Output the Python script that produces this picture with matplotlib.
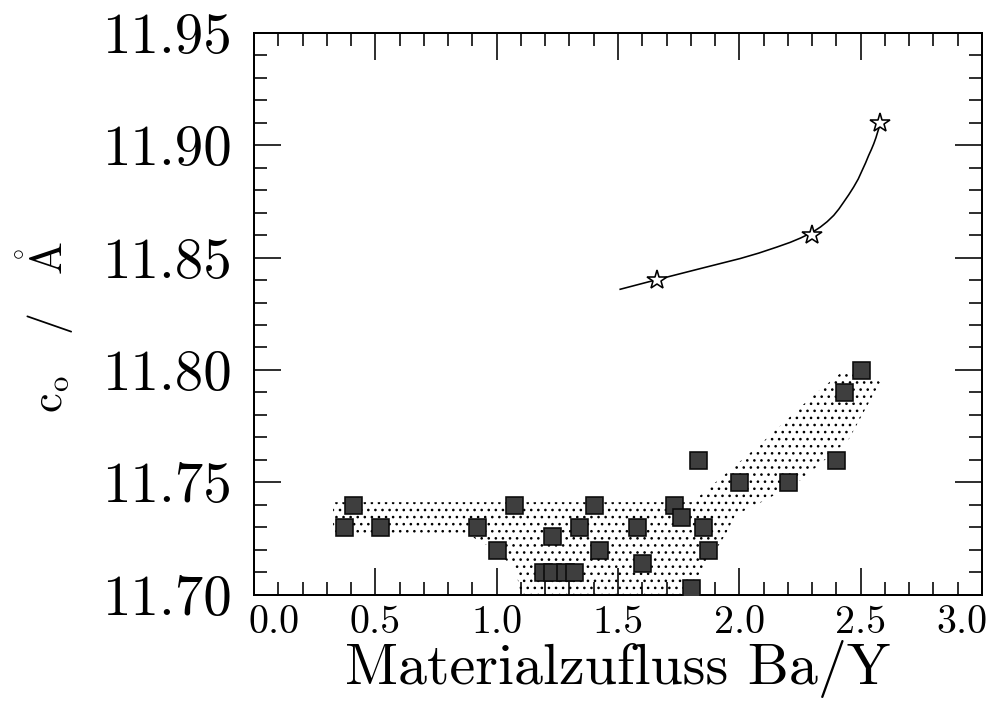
import matplotlib
matplotlib.use("Agg")
import matplotlib.pyplot as plt
import matplotlib.transforms as mtransforms
from matplotlib.patches import Polygon
from matplotlib.ticker import MultipleLocator, FormatStrFormatter

plt.rcParams['font.family'] = ['cmr10', 'DejaVu Serif']
plt.rcParams['mathtext.fontset'] = 'cm'
plt.rcParams['axes.formatter.use_mathtext'] = True
plt.rcParams['axes.unicode_minus'] = False
plt.rcParams['hatch.linewidth'] = 1.0

# ---- data ----
sq_x = [0.37, 0.41, 0.52, 0.92, 1.00, 1.07, 1.19, 1.23, 1.28, 1.32, 1.23, 1.34,
        1.40, 1.42, 1.58, 1.60, 1.73, 1.76, 1.80, 1.83, 1.85, 1.87, 2.00, 2.20,
        2.40, 2.43, 2.50]
sq_y = [11.730, 11.740, 11.730, 11.730, 11.720, 11.740, 11.710, 11.710, 11.710, 11.710,
        11.726, 11.730, 11.740, 11.720, 11.730, 11.714, 11.740, 11.7345, 11.703,
        11.760, 11.730, 11.720, 11.750, 11.750, 11.760, 11.790, 11.800]

star_x = [1.66, 2.30, 2.58]
star_y = [11.840, 11.860, 11.910]

curve_x = [1.509, 1.661, 1.839, 2.004, 2.080, 2.155, 2.210, 2.252, 2.300, 2.334,
           2.362, 2.389, 2.410, 2.430, 2.451, 2.471, 2.490, 2.506, 2.520, 2.533,
           2.544, 2.554, 2.563, 2.570, 2.581]
curve_y = [11.8359, 11.8402, 11.8451, 11.8496, 11.8520, 11.8547, 11.8568, 11.8587,
           11.8612, 11.8636, 11.8660, 11.8688, 11.8716, 11.8747, 11.8780, 11.8814,
           11.8850, 11.8888, 11.8921, 11.8955, 11.8981, 11.9007, 11.9034, 11.9059,
           11.9096]

band_x = [0.326, 1.806, 2.082, 2.305, 2.416, 2.54, 2.58, 2.449, 2.252, 2.107, 1.984,
          1.942, 1.889, 1.839, 1.757, 1.10, 1.076, 0.96, 0.87, 0.326]
band_y = [11.7411, 11.7411, 11.7665, 11.7887, 11.7985, 11.7976, 11.7945, 11.7687,
          11.7509, 11.742, 11.7354, 11.7265, 11.7176, 11.7096, 11.700, 11.700,
          11.712, 11.722, 11.7274, 11.7274]

x_ticks = [0.0, 0.5, 1.0, 1.5, 2.0, 2.5, 3.0]
y_ticks = [11.70, 11.75, 11.80, 11.85, 11.90, 11.95]

DPI = 85
def px(p):
    return p * 72.0 / DPI

fig = plt.figure(figsize=(994 / DPI, 705 / DPI), dpi=DPI)
ax = fig.add_axes([254 / 994, 1 - 594.5 / 705, (982 - 254) / 994, (594.5 - 33) / 705])

ax.set_xlim(0.0, 3.0)
ax.set_ylim(11.70, 11.95)

band = Polygon(list(zip(band_x, band_y)), closed=True, facecolor='none',
               edgecolor='black', linewidth=0, hatch='..', zorder=1)
ax.add_patch(band)

ax.plot(curve_x, curve_y, color='black', lw=px(1.6), zorder=2)
ax.plot(star_x, star_y, linestyle='none', marker='*', ms=px(21), mfc='white',
        mec='black', mew=px(1.6), zorder=4)
ax.plot(sq_x, sq_y, linestyle='none', marker='s', ms=px(17), mfc='#3e3e3e',
        mec='#0a0a0a', mew=px(1.6), zorder=3)

ax.xaxis.set_minor_locator(MultipleLocator(0.1))
ax.yaxis.set_minor_locator(MultipleLocator(0.01))
ax.set_xticks(x_ticks)
ax.set_yticks(y_ticks)
ax.xaxis.set_major_formatter(FormatStrFormatter('%.1f'))
ax.yaxis.set_major_formatter(FormatStrFormatter('%.2f'))

ax.tick_params(which='both', direction='in', top=True, right=True, width=px(1.6), color='black')
ax.tick_params(which='major', length=px(27))
ax.tick_params(which='minor', length=px(13))
ax.tick_params(axis='y', which='major', labelsize=px(57), pad=px(22))
ax.tick_params(axis='x', which='major', labelsize=px(40), pad=px(11))
for s in ax.spines.values():
    s.set_linewidth(px(2))

xl = ax.get_xticklabels()
xl[0].set_transform(xl[0].get_transform() +
                    mtransforms.ScaledTranslation(20 / DPI, 0, fig.dpi_scale_trans))
xl[-1].set_transform(xl[-1].get_transform() +
                     mtransforms.ScaledTranslation(-20 / DPI, 0, fig.dpi_scale_trans))

ax.set_xlabel('Materialzufluss Ba/Y', fontsize=px(58))
ax.xaxis.set_label_coords(0.5, -(684 - 594.5) / 561.5)
ax.xaxis.label.set_va('baseline')

ax.set_ylabel(r'$\mathrm{c}_\mathrm{o}\quad/\quad\mathring{\mathrm{A}}$', fontsize=px(44))
ax.yaxis.set_label_coords((45 - 254) / 728, (594.5 - 327) / 561.5)
ax.yaxis.label.set_va('center')

fig.savefig('out.png', dpi=DPI)
